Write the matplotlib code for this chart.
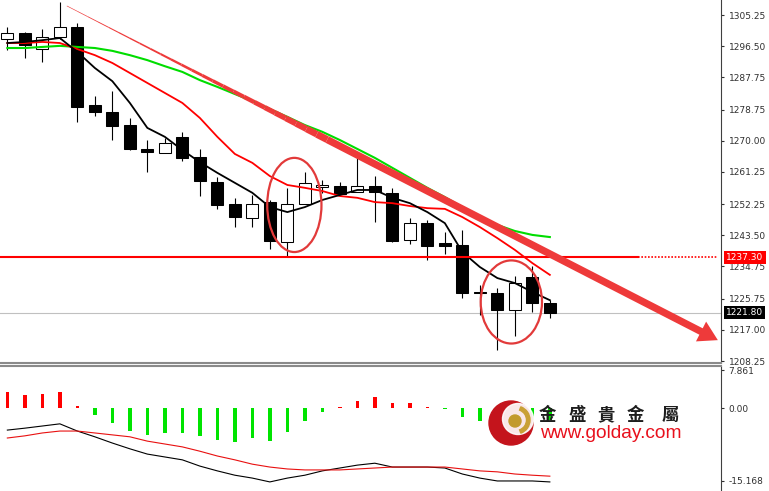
"""MT4-style gold daily chart: candles, moving averages, trend arrow and MACD pane."""
import numpy as np
import matplotlib
matplotlib.use("Agg")
import matplotlib.pyplot as plt
import matplotlib.transforms as mtransforms
from matplotlib.patches import Ellipse, Circle, Wedge, FancyArrowPatch

plt.rcParams.update({"font.family": ["DejaVu Sans"], "font.size": 6.5})

# candles, oldest -> newest
OPEN = [1298.5, 1300.2, 1295.7, 1299.1, 1301.9, 1280.0, 1278.1, 1274.4, 1267.7, 1266.6,
        1271.1, 1265.4, 1258.4, 1252.3, 1248.3, 1252.8, 1241.6, 1252.3, 1257.0, 1257.3,
        1255.6, 1257.3, 1255.4, 1242.2, 1246.9, 1241.3, 1240.8, 1227.6, 1227.3, 1222.6,
        1231.8, 1224.5]
HIGH = [1301.9, 1300.5, 1301.3, 1309.0, 1303.0, 1282.5, 1283.9, 1276.4, 1270.2, 1270.8,
        1272.5, 1267.7, 1259.8, 1254.0, 1254.8, 1253.4, 1256.8, 1261.2, 1259.0, 1258.4,
        1265.4, 1260.1, 1256.8, 1248.3, 1247.8, 1244.4, 1245.0, 1229.6, 1228.7, 1232.1,
        1234.9, 1225.4]
LOW = [1295.4, 1293.2, 1292.1, 1298.5, 1275.3, 1276.9, 1270.2, 1267.4, 1261.2, 1266.6,
       1264.3, 1254.5, 1250.9, 1245.8, 1245.8, 1239.7, 1237.4, 1252.3, 1255.4, 1255.1,
       1255.6, 1247.2, 1241.6, 1241.1, 1236.6, 1238.2, 1225.9, 1221.1, 1211.3, 1215.3,
       1222.0, 1220.3]
CLOSE = [1300.2, 1296.8, 1299.1, 1301.9, 1279.5, 1278.1, 1274.1, 1267.7, 1266.8, 1269.4,
         1265.2, 1258.7, 1252.0, 1248.6, 1252.3, 1241.9, 1252.3, 1258.2, 1257.6, 1255.1,
         1257.3, 1255.6, 1241.9, 1246.9, 1240.5, 1240.5, 1227.3, 1227.3, 1222.6, 1230.1,
         1224.5, 1221.8]

MA_FAST = [1297.4, 1297.7, 1298.2, 1298.8, 1294.9, 1290.4, 1286.7, 1280.6, 1273.6, 1271.1,
           1267.4, 1264.0, 1261.0, 1258.2, 1255.4, 1251.4, 1250.0, 1251.4, 1253.4, 1254.8,
           1256.2, 1256.2, 1254.0, 1252.5, 1250.0, 1246.9, 1238.8, 1234.6, 1231.5, 1230.1,
           1227.6, 1225.3]
MA_MID = [1297.4, 1297.4, 1297.7, 1297.4, 1295.7, 1294.0, 1291.8, 1289.0, 1286.2, 1283.4,
          1280.6, 1276.4, 1271.1, 1266.3, 1263.8, 1260.1, 1257.6, 1256.8, 1255.9, 1254.5,
          1254.0, 1252.8, 1252.5, 1251.7, 1251.1, 1250.9, 1248.6, 1245.8, 1242.7, 1239.4,
          1235.7, 1232.4]
MA_SLOW = [1296.0, 1296.0, 1296.3, 1296.6, 1296.3, 1296.0, 1295.2, 1294.0, 1292.6, 1290.9,
           1289.3, 1287.0, 1285.1, 1283.1, 1281.1, 1278.9, 1276.7, 1274.4, 1272.5, 1270.2,
           1267.7, 1265.2, 1262.4, 1259.6, 1256.8, 1254.2, 1251.4, 1248.3, 1246.4, 1244.7,
           1243.6, 1243.0]

MACD_HIST = [3.3, 2.7, 2.9, 3.3, 0.5, -1.4, -3.1, -4.8, -5.6, -5.2,
             -5.2, -5.8, -6.7, -7.1, -6.3, -6.9, -5.0, -2.7, -0.8, 0.3,
             1.5, 2.3, 1.0, 1.0, 0.3, -0.3, -1.9, -2.7, -2.8, -2.5,
             -2.5, -2.5]
MACD_MAIN = [-4.6, -4.2, -3.75, -3.3, -4.8, -6.0, -7.3, -8.5, -9.6, -10.2,
             -10.8, -12.1, -13.1, -14.0, -14.6, -15.4, -14.6, -14.0, -13.1, -12.5,
             -11.9, -11.5, -12.3, -12.3, -12.3, -12.5, -13.75, -14.6, -15.2, -15.2,
             -15.2, -15.4]
MACD_SIGNAL = [-6.25, -5.8, -5.2, -4.8, -4.8, -5.2, -5.6, -6.0, -6.9, -7.5,
               -8.1, -9.0, -10.0, -10.8, -11.7, -12.3, -12.7, -12.9, -12.9, -12.9,
               -12.7, -12.5, -12.3, -12.3, -12.3, -12.3, -12.7, -13.1, -13.3, -13.75,
               -14.0, -14.2]

PRICE_TICKS = [1305.25, 1296.50, 1287.75, 1278.75, 1270.00, 1261.25, 1252.25,
               1243.50, 1234.75, 1225.75, 1217.00, 1208.25]
MACD_TICKS = [7.861, 0.0, -15.168]
MACD_TICK_LABELS = ["7.861", "0.00", "-15.168"]

RESIST = 1237.30
LAST = 1221.80
TREND = [(3.4, 1307.8), (40.6, 1214.1)]
CIRCLES = [(16.4, 1252.0, 3.1, 26.4), (28.8, 1224.8, 3.5, 23.3)]

RED = "#ff0000"
TRED = "#ee3a3a"
XLIM = (-0.42, 40.78)

fig = plt.figure(figsize=(7.69, 4.91), dpi=100)
ax = fig.add_axes([0, 1 - 363 / 491, 721 / 769, 363 / 491])
sub = fig.add_axes([0, 0, 721 / 769, 125 / 491])

# ---------------- price pane ----------------
x = np.arange(len(OPEN))
o, h, l, c = map(np.array, (OPEN, HIGH, LOW, CLOSE))
up = c >= o
ax.vlines(x, l, h, color="black", lw=0.8, zorder=2)
ax.bar(x, np.maximum(np.abs(c - o), 0.3), bottom=np.minimum(o, c), width=0.68,
       color=np.where(up, "white", "black"), edgecolor="black", lw=0.75, zorder=3)

ax.plot(x, MA_SLOW, color="#00dd00", lw=1.5, zorder=4)
ax.plot(x, MA_MID, color=RED, lw=1.3, zorder=4)
ax.plot(x, MA_FAST, color="black", lw=1.3, zorder=4)

# horizontal levels
ax.axhline(LAST, color="#c0c0c0", lw=0.8, zorder=1)
ax.axhline(RESIST, xmin=0, xmax=0.885, color=RED, lw=1.5, zorder=4)
ax.axhline(RESIST, xmin=0.885, xmax=0.995, color=RED, lw=1.2, ls=(0, (1, 1)), zorder=4)

# tapered trend line ending in an arrow
(x0, y0), (x1, y1) = TREND
split = 0.40
s = np.linspace(0, 1, 26)
tt = s * split
widths = 0.4 + 4.7 * s[1:] ** 1.6
for a, b, w in zip(tt[:-1], tt[1:], widths):
    ax.plot([x0 + a * (x1 - x0), x0 + b * (x1 - x0)],
            [y0 + a * (y1 - y0), y0 + b * (y1 - y0)],
            color=TRED, lw=w, solid_capstyle="butt", zorder=5)
xm, ym = x0 + split * (x1 - x0), y0 + split * (y1 - y0)
ax.add_patch(FancyArrowPatch((xm, ym), (x1, y1),
                             arrowstyle="simple,head_length=1.7,head_width=2.0,tail_width=0.65",
                             mutation_scale=8, color=TRED, lw=0, shrinkA=0, shrinkB=0,
                             zorder=5, clip_on=False))

for cx, cy, w, hgt in CIRCLES:
    ax.add_patch(Ellipse((cx, cy), w, hgt, fill=False, ec="#e23a3a", lw=1.6, zorder=6))

ax.set_xlim(*XLIM)
ax.set_ylim(1207.69, 1309.46)
ax.yaxis.tick_right()
ax.set_yticks(PRICE_TICKS)
ax.set_yticklabels([f"{v:.2f}" for v in PRICE_TICKS])
ax.set_xticks([])
ax.tick_params(axis="y", labelsize=6.5, length=2.5, pad=3, colors="#303030")
for side in ("left", "top"):
    ax.spines[side].set_visible(False)
ax.spines["right"].set_color("#404040")
ax.spines["bottom"].set_color("#8a8a8a")
ax.spines["bottom"].set_linewidth(1.5)

tr = mtransforms.blended_transform_factory(ax.transAxes, ax.transData)
ax.text(1.007, RESIST, f"{RESIST:.2f}", transform=tr, ha="left", va="center",
        color="white", fontsize=6.5, zorder=10, clip_on=False,
        bbox=dict(boxstyle="square,pad=0.25", fc=RED, ec="none"))
ax.text(1.007, LAST, f"{LAST:.2f}", transform=tr, ha="left", va="center",
        color="white", fontsize=6.5, zorder=10, clip_on=False,
        bbox=dict(boxstyle="square,pad=0.25", fc="black", ec="none"))

# ---------------- MACD pane ----------------
hist = np.array(MACD_HIST)
sub.bar(x, hist, width=0.2, color=np.where(hist >= 0, RED, "#00e400"), zorder=2)
sub.plot(x, MACD_MAIN, color="black", lw=0.8, zorder=3)
sub.plot(x, MACD_SIGNAL, color="#e81010", lw=0.8, zorder=3)
sub.set_xlim(*XLIM)
sub.set_ylim(-17.29, 8.75)
sub.yaxis.tick_right()
sub.set_yticks(MACD_TICKS)
sub.set_yticklabels(MACD_TICK_LABELS)
sub.set_xticks([])
sub.tick_params(axis="y", labelsize=6.5, length=2.5, pad=3, colors="#303030")
for side in ("left", "bottom"):
    sub.spines[side].set_visible(False)
sub.spines["right"].set_color("#404040")
sub.spines["top"].set_color("#8a8a8a")
sub.spines["top"].set_linewidth(1.5)

# ---------------- watermark logo (pixel space) ----------------
lg = fig.add_axes([0, 0, 1, 1], zorder=20)
lg.set_xlim(0, 769)
lg.set_ylim(491, 0)
lg.axis("off")
lg.patch.set_alpha(0)
lg.add_patch(Circle((511, 423), 22, color="#c4141c"))
lg.add_patch(Circle((518, 419), 15.5, color="white", alpha=0.9))
lg.add_patch(Wedge((516, 420), 14, -70, 70, width=3.5, color="#c9a034"))
lg.add_patch(Circle((515, 421), 6, color="#c29a2c"))
for ch, cx in zip("金盛貴金屬", [547, 577, 606, 635, 670]):
    lg.text(cx, 415, ch, ha="center", va="center", fontsize=12.5, color="#1e1e1e",
            fontweight="bold", family=["Noto Sans CJK TC", "DejaVu Sans"])
lg.text(540, 434, "www.golday.com", ha="left", va="center", fontsize=13.8,
        color="#e8101c", family=["Liberation Sans", "DejaVu Sans"])

fig.savefig("out.png", dpi=100)
